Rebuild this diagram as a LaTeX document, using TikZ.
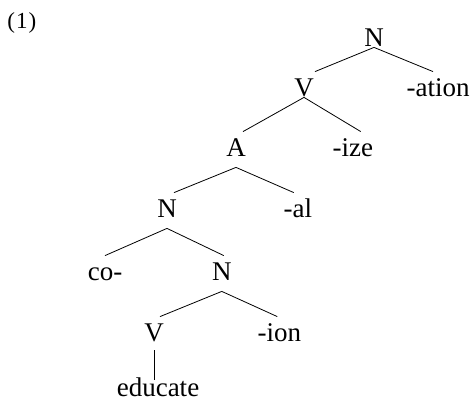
\documentclass[tikz,border=0pt]{standalone}
\usepackage{fontspec}
\setmainfont{Liberation Serif}
\usetikzlibrary{positioning}

\begin{document}
\begin{tikzpicture}[x=1pt, y=-1pt, line width=0.8pt,
  every node/.style={inner sep=0pt, font=\fontsize{27}{32}\selectfont,
    text height=25pt, text depth=0pt, anchor=base},
  lowroot/.style={text depth=10pt}]
\useasboundingbox (0,0) rectangle (475,403);
\node[anchor=base west, font=\fontsize{23}{26}\selectfont] (ex) at (7,29) {(\kern1pt1\kern1pt)};

\node (N1) at (374,47) {N};
\node (V1) at (304,97) {V};
\node[base right=92pt of V1] (ation) {-ation};
\draw (N1.south) -- ([xshift=11pt]V1.north);
\draw (N1.south) -- ([xshift=-5pt]ation.north);

  \node[lowroot] (A) at (236,157) {A};
  \node[base right=86pt of A] (ize) {-ize};
  \draw (V1.south) -- ([xshift=7pt]A.north);
  \draw (V1.south) -- ([xshift=8pt]ize.north);

  \node[lowroot] (N2) at (167,218) {N};
  \node[base right=106pt of N2] (al) {-al};
  \draw (A.south) -- ([xshift=7pt]N2.north);
  \draw (A.south) -- ([xshift=-4pt]al.north);

  \node (co) at (105,281) {co-};
  \node[lowroot, base right=89pt of co] (N3) {N};
  \draw (N2.south) -- (co.north);
  \draw (N2.south) -- ([xshift=2pt]N3.north);

    \node[text depth=8pt] (V3) at (154,342) {V};
    \node[base right=93pt of V3] (ion) {-ion};
    \draw (N3.south) -- ([xshift=6pt]V3.north);
    \draw (N3.south) -- ([xshift=-2pt]ion.north);

    \node[text height=17pt] (edu) at (158,397) {educate};
    \draw (V3.south) -- ([xshift=-4pt]edu.north);

\end{tikzpicture}
\end{document}
